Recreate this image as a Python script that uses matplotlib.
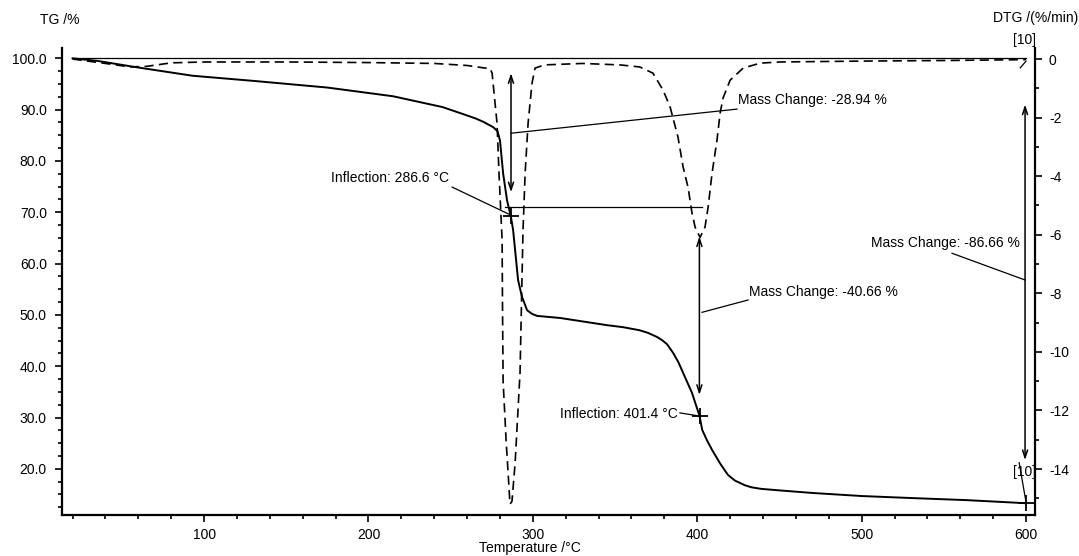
import numpy as np
import matplotlib.pyplot as plt

plt.rcParams['font.family'] = ['Liberation Sans', 'DejaVu Sans']
plt.rcParams['font.size'] = 10
plt.rcParams['axes.unicode_minus'] = False

# TG curve (mass %, left axis)
T_tg = [20, 35, 60, 93, 130, 175, 215, 245, 256, 265, 270, 275.8, 278.5, 280,
        281.9, 284.3, 286.6, 288, 291, 293.4, 296.5, 299.5, 302.6, 316.5, 345,
        355, 365, 370, 375.5, 378.5, 381.6, 385.3, 388.5, 391.4, 396.8, 401.4,
        403, 406, 409, 414, 418.7, 423, 429, 433, 438.8, 450, 470, 500, 531,
        564, 600]
tg = [100, 99.5, 98.2, 96.6, 95.6, 94.3, 92.6, 90.5, 89.3, 88.3, 87.6, 86.6,
      85.8, 84.0, 77.6, 72.3, 69.2, 66.5, 56.8, 53.5, 50.9, 50.2, 49.8, 49.4,
      48.0, 47.6, 47.0, 46.5, 45.7, 45.1, 44.3, 42.6, 40.8, 38.7, 34.8, 30.3,
      27.6, 25.5, 23.7, 21.0, 18.8, 17.7, 16.8, 16.4, 16.1, 15.8, 15.3, 14.7,
      14.3, 13.9, 13.3]

# DTG curve (%/min, right axis)
T_dtg = [20, 40, 55, 65, 80, 100, 150, 200, 240, 260, 270, 274, 275.2, 275.8,
         278.2, 279.4, 281.3, 281.5, 281.9, 283.7, 286.1, 287.3, 289.2, 292.2,
         294, 295.3, 297.1, 299.5, 301.3, 307, 330, 353, 365, 373, 379.2,
         383.5, 388.3, 391.4, 394.4, 396.8, 398.7, 401.7, 404.7, 406.6, 409,
         412, 413.9, 415.7, 420, 427.9, 438.2, 450, 500, 550, 600]
dtg = [0, -0.15, -0.27, -0.25, -0.13, -0.1, -0.1, -0.12, -0.15, -0.22, -0.3,
       -0.33, -0.48, -0.82, -2.19, -3.9, -6.19, -8.2, -11.0, -13.0, -15.2,
       -15.1, -13.8, -10.7, -5.85, -3.9, -2.19, -0.82, -0.31, -0.2, -0.15,
       -0.2, -0.27, -0.48, -1.06, -1.64, -2.67, -3.69, -4.38, -5.26, -5.74,
       -6.09, -5.74, -5.06, -3.9, -2.77, -1.85, -1.33, -0.72, -0.31, -0.14,
       -0.1, -0.07, -0.05, -0.02]

# mass change arrows: temperature, TG top, TG bottom, label
step_T = [286.7, 401.3, 599.4]
step_top = [97.1, 65.3, 91.0]
step_bot = [73.9, 34.4, 21.7]
step_labels = ['Mass Change: -28.94 %', 'Mass Change: -40.66 %',
               'Mass Change: -86.66 %']

infl_T = [286.6, 401.4]
infl_tg = [69.2, 30.3]
infl_labels = ['Inflection: 286.6 \u00b0C', 'Inflection: 401.4 \u00b0C']

fig = plt.figure(figsize=(10.79, 5.56), dpi=100)
ax = fig.add_axes([0.0575, 0.0737, 0.9018, 0.8399])
ax2 = ax.twinx()

ax.set_xlim(13.6, 605.5)
ax.set_ylim(11.0, 102.0)
ax2.set_ylim(-15.57, 0.376)

ax.plot([20, 600], [100, 100], color='k', lw=0.9)
ax.plot(T_tg, tg, color='k', lw=1.4)
ax2.plot(T_dtg, dtg, color='k', lw=1.2, ls=(0, (5.5, 3.2)))

arrow = dict(arrowstyle='<->,head_length=0.55,head_width=0.18', color='k',
             lw=1.1, shrinkA=0, shrinkB=0)
for t, top, bot in zip(step_T, step_top, step_bot):
    ax.annotate('', xy=(t, bot), xytext=(t, top), arrowprops=arrow)

# horizontal connector between the two steps
ax.plot([283.1, 403.0], [71.0, 71.0], color='k', lw=0.9)

# inflection markers and labels
ax.plot(infl_T, infl_tg, ls='none', marker='+', ms=11, mew=1.3, color='k')
ax.plot([600], [13.3], ls='none', marker='+', ms=11, mew=1.3, color='k')
ax.plot([250.9, 285.6], [74.9, 69.6], color='k', lw=0.9)
ax.text(249.0, 76.6, infl_labels[0], ha='right', va='center')
ax.plot([389.5, 401.0], [30.9, 30.3], color='k', lw=0.9)
ax.text(388.0, 30.7, infl_labels[1], ha='right', va='center')

# mass change leaders and labels
ax.plot([286.7, 424.2], [85.4, 90.1], color='k', lw=0.9)
ax.text(425.0, 91.8, step_labels[0], ha='left', va='center')
ax.plot([402.9, 430.9], [50.5, 52.9], color='k', lw=0.9)
ax.text(431.5, 54.4, step_labels[1], ha='left', va='center')
ax.plot([599.4, 555.0], [56.8, 62.0], color='k', lw=0.9)
ax.text(505.7, 64.0, step_labels[2], ha='left', va='center')

# segment markers
ax2.plot([596.5, 600.0], [-0.3, -0.07], color='k', lw=0.9, clip_on=False)
ax2.text(599.0, 0.65, '[10]', ha='center', va='center')
ax.plot([595.8, 600.0], [21.2, 13.5], color='k', lw=0.9)
ax.text(599.0, 19.4, '[10]', ha='center', va='center')

ax.set_yticks(np.arange(20, 101, 10))
ax.set_yticks(np.arange(12.5, 102, 2.5), minor=True)
ax.yaxis.set_major_formatter(plt.FormatStrFormatter('%.1f'))
ax.set_xticks(np.arange(100, 601, 100))
ax.set_xticks(np.arange(20, 605, 20), minor=True)
ax2.set_yticks(np.arange(-14, 1, 2))
ax2.set_yticks(np.arange(-15, 1, 1), minor=True)

for a in (ax, ax2):
    a.tick_params(which='major', direction='out', length=5, width=1.2,
                  labelsize=10)
    a.tick_params(which='minor', direction='out', length=3, width=1.2)
    a.spines['top'].set_visible(False)
    for s in a.spines.values():
        s.set_linewidth(1.6)
ax.tick_params(axis='y', pad=6)
ax.tick_params(axis='x', pad=4)
ax2.tick_params(axis='y', pad=5)
ax.spines['right'].set_visible(False)
ax2.spines['left'].set_visible(False)
ax2.spines['bottom'].set_visible(False)

fig.text(40 / 1079, 1 - 20 / 556, 'TG /%', ha='left', va='center')
fig.text(1078 / 1079, 1 - 18 / 556, 'DTG /(%/min)', ha='right', va='center')
fig.text(530 / 1079, 1 - 548 / 556, 'Temperature /\u00b0C', ha='center',
         va='center')

fig.savefig('out.png', dpi=100)
